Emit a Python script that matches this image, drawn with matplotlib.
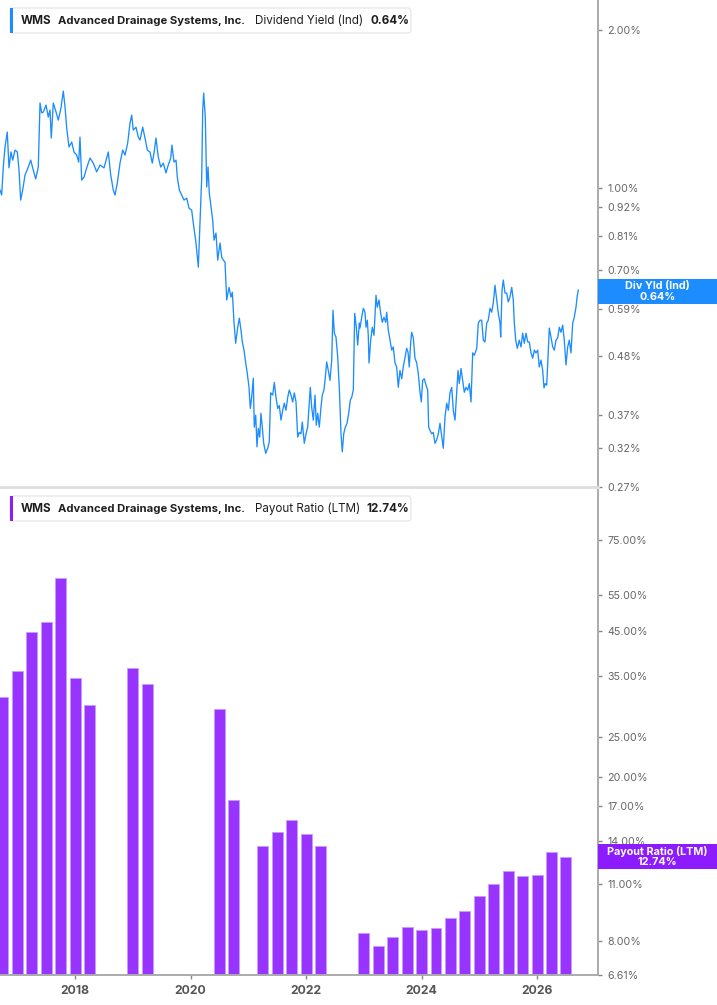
import matplotlib
matplotlib.use('Agg')
import matplotlib.pyplot as plt
from matplotlib.patches import FancyBboxPatch, Rectangle
from matplotlib.ticker import FixedLocator, NullLocator

plt.rcParams['font.family'] = ['Inter', 'DejaVu Sans']

# Dividend yield (Ind), %, dates as decimal years
yld_t = [
    2016.700, 2016.729, 2016.757, 2016.787, 2016.826, 2016.856, 2016.890, 2016.920, 2016.960, 2017.000,
    2017.029, 2017.058, 2017.093, 2017.133, 2017.190, 2017.232, 2017.266, 2017.318, 2017.363, 2017.393,
    2017.422, 2017.450, 2017.497, 2017.536, 2017.566, 2017.588, 2017.623, 2017.670, 2017.710, 2017.756,
    2017.796, 2017.826, 2017.855, 2017.895, 2017.942, 2017.981, 2018.028, 2018.063, 2018.085, 2018.115,
    2018.155, 2018.201, 2018.258, 2018.316, 2018.374, 2018.432, 2018.501, 2018.575, 2018.617, 2018.662,
    2018.691, 2018.731, 2018.778, 2018.825, 2018.865, 2018.911, 2018.951, 2018.981, 2019.008, 2019.055,
    2019.095, 2019.124, 2019.171, 2019.211, 2019.251, 2019.297, 2019.337, 2019.367, 2019.401, 2019.441,
    2019.483, 2019.528, 2019.574, 2019.614, 2019.656, 2019.678, 2019.713, 2019.748, 2019.770, 2019.805,
    2019.846, 2019.886, 2019.933, 2019.973, 2020.019, 2020.047, 2020.094, 2020.134, 2020.163, 2020.193,
    2020.210, 2020.227, 2020.255, 2020.279, 2020.302, 2020.324, 2020.354, 2020.383, 2020.406, 2020.440,
    2020.470, 2020.510, 2020.539, 2020.567, 2020.596, 2020.626, 2020.665, 2020.700, 2020.723, 2020.752,
    2020.781, 2020.816, 2020.844, 2020.873, 2020.896, 2020.925, 2020.955, 2020.982, 2021.012, 2021.034,
    2021.058, 2021.086, 2021.103, 2021.128, 2021.150, 2021.173, 2021.197, 2021.219, 2021.242, 2021.266,
    2021.301, 2021.336, 2021.363, 2021.387, 2021.422, 2021.450, 2021.479, 2021.509, 2021.536, 2021.566,
    2021.595, 2021.623, 2021.652, 2021.682, 2021.709, 2021.739, 2021.768, 2021.796, 2021.826, 2021.855,
    2021.883, 2021.912, 2021.935, 2021.969, 2021.999, 2022.028, 2022.051, 2022.073, 2022.097, 2022.125,
    2022.155, 2022.177, 2022.201, 2022.229, 2022.258, 2022.281, 2022.310, 2022.328, 2022.357, 2022.385,
    2022.414, 2022.444, 2022.466, 2022.489, 2022.518, 2022.548, 2022.575, 2022.605, 2022.627, 2022.652,
    2022.679, 2022.709, 2022.738, 2022.766, 2022.790, 2022.818, 2022.842, 2022.870, 2022.894, 2022.922,
    2022.934, 2022.963, 2022.991, 2023.020, 2023.038, 2023.060, 2023.077, 2023.090, 2023.119, 2023.147,
    2023.176, 2023.211, 2023.233, 2023.263, 2023.292, 2023.320, 2023.349, 2023.379, 2023.396, 2023.424,
    2023.453, 2023.483, 2023.510, 2023.540, 2023.569, 2023.597, 2023.626, 2023.656, 2023.683, 2023.713,
    2023.742, 2023.765, 2023.787, 2023.812, 2023.829, 2023.857, 2023.886, 2023.916, 2023.943, 2023.973,
    2023.995, 2024.019, 2024.047, 2024.077, 2024.106, 2024.123, 2024.146, 2024.175, 2024.203, 2024.232,
    2024.262, 2024.290, 2024.319, 2024.348, 2024.376, 2024.406, 2024.435, 2024.463, 2024.492, 2024.522,
    2024.549, 2024.579, 2024.608, 2024.631, 2024.653, 2024.683, 2024.712, 2024.740, 2024.769, 2024.799,
    2024.826, 2024.856, 2024.885, 2024.913, 2024.955, 2024.982, 2025.012, 2025.041, 2025.069, 2025.098,
    2025.128, 2025.155, 2025.185, 2025.214, 2025.242, 2025.271, 2025.301, 2025.329, 2025.358, 2025.370,
    2025.393, 2025.415, 2025.445, 2025.474, 2025.502, 2025.531, 2025.561, 2025.588, 2025.606, 2025.630,
    2025.658, 2025.692, 2025.722, 2025.751, 2025.779, 2025.808, 2025.838, 2025.865, 2025.895, 2025.924,
    2025.952, 2025.981, 2026.011, 2026.038, 2026.068, 2026.097, 2026.120, 2026.142, 2026.167, 2026.189,
    2026.212, 2026.241, 2026.271, 2026.298, 2026.328, 2026.357, 2026.385, 2026.414, 2026.444, 2026.471,
    2026.501, 2026.530, 2026.558, 2026.587, 2026.617, 2026.644, 2026.674, 2026.697, 2026.714,
]
yld_v = [
    0.993, 0.971, 1.098, 1.199, 1.280, 1.094, 1.173, 1.132, 1.183, 1.173,
    1.084, 0.950, 0.993, 1.060, 1.098, 1.132, 1.094, 1.042, 1.098, 1.454,
    1.392, 1.398, 1.441, 1.367, 1.410, 1.247, 1.454, 1.398, 1.349, 1.422,
    1.532, 1.429, 1.302, 1.199, 1.225, 1.173, 1.157, 1.122, 1.252, 1.037,
    1.051, 1.094, 1.142, 1.117, 1.075, 1.108, 1.094, 1.173, 1.060, 0.993,
    0.971, 1.023, 1.117, 1.183, 1.157, 1.220, 1.331, 1.379, 1.291, 1.308,
    1.252, 1.236, 1.308, 1.247, 1.183, 1.173, 1.117, 1.168, 1.247, 1.147,
    1.098, 1.117, 1.070, 1.108, 1.142, 1.209, 1.122, 1.132, 1.051, 0.993,
    0.971, 0.950, 0.958, 0.917, 0.909, 0.859, 0.787, 0.708, 0.859, 1.051,
    1.410, 1.519, 1.367, 1.006, 1.098, 0.980, 0.921, 0.870, 0.797, 0.822,
    0.730, 0.787, 0.740, 0.730, 0.724, 0.613, 0.648, 0.621, 0.634, 0.556,
    0.507, 0.544, 0.566, 0.537, 0.510, 0.492, 0.465, 0.444, 0.418, 0.381,
    0.400, 0.435, 0.351, 0.370, 0.322, 0.349, 0.336, 0.373, 0.351, 0.327,
    0.313, 0.320, 0.329, 0.408, 0.404, 0.427, 0.400, 0.381, 0.386, 0.362,
    0.378, 0.390, 0.378, 0.400, 0.413, 0.404, 0.392, 0.408, 0.392, 0.336,
    0.343, 0.341, 0.359, 0.327, 0.341, 0.351, 0.383, 0.418, 0.383, 0.362,
    0.404, 0.354, 0.373, 0.351, 0.383, 0.404, 0.413, 0.431, 0.467, 0.450,
    0.431, 0.471, 0.586, 0.530, 0.521, 0.477, 0.418, 0.341, 0.315, 0.341,
    0.351, 0.357, 0.373, 0.395, 0.400, 0.413, 0.578, 0.544, 0.503, 0.554,
    0.542, 0.568, 0.591, 0.581, 0.544, 0.561, 0.525, 0.465, 0.514, 0.544,
    0.525, 0.626, 0.594, 0.613, 0.578, 0.556, 0.568, 0.556, 0.581, 0.537,
    0.514, 0.492, 0.499, 0.465, 0.457, 0.418, 0.450, 0.434, 0.457, 0.477,
    0.496, 0.488, 0.457, 0.510, 0.532, 0.519, 0.475, 0.465, 0.444, 0.409,
    0.392, 0.431, 0.434, 0.422, 0.413, 0.351, 0.346, 0.341, 0.343, 0.327,
    0.332, 0.341, 0.357, 0.338, 0.320, 0.367, 0.390, 0.378, 0.408, 0.418,
    0.378, 0.362, 0.408, 0.450, 0.425, 0.454, 0.431, 0.409, 0.418, 0.413,
    0.425, 0.392, 0.486, 0.481, 0.496, 0.554, 0.561, 0.561, 0.514, 0.510,
    0.554, 0.561, 0.591, 0.581, 0.605, 0.654, 0.613, 0.578, 0.554, 0.521,
    0.640, 0.669, 0.632, 0.632, 0.608, 0.621, 0.648, 0.613, 0.554, 0.514,
    0.496, 0.514, 0.499, 0.530, 0.507, 0.530, 0.510, 0.510, 0.486, 0.475,
    0.492, 0.486, 0.492, 0.457, 0.471, 0.450, 0.417, 0.425, 0.422, 0.477,
    0.542, 0.521, 0.499, 0.492, 0.514, 0.519, 0.544, 0.532, 0.549, 0.514,
    0.461, 0.499, 0.514, 0.486, 0.554, 0.568, 0.594, 0.626, 0.640,
]

# Payout ratio (LTM), %, quarterly
pay_t = [2016.75, 2017.0, 2017.25, 2017.5, 2017.75, 2018.0, 2018.25, 2019.0, 2019.25,
         2020.5, 2020.75, 2021.25, 2021.5, 2021.75, 2022.0, 2022.25,
         2023.0, 2023.25, 2023.5, 2023.75, 2024.0, 2024.25, 2024.5, 2024.75,
         2025.0, 2025.25, 2025.5, 2025.75, 2026.0, 2026.25, 2026.5]
pay_v = [31.1, 36.1, 44.7, 47.5, 60.5, 34.7, 29.8, 36.7, 33.6,
         29.1, 17.6, 13.6, 14.7, 15.7, 14.5, 13.6,
         8.37, 7.77, 8.17, 8.65, 8.48, 8.59, 9.09, 9.44,
         10.26, 11.0, 11.8, 11.5, 11.55, 13.1, 12.74]

yld_ticks = [0.27, 0.32, 0.37, 0.48, 0.59, 0.70, 0.81, 0.92, 1.00, 2.00]
pay_ticks = [6.61, 8.0, 11.0, 14.0, 17.0, 20.0, 25.0, 35.0, 45.0, 55.0, 75.0]
year_ticks = [2018, 2020, 2022, 2024, 2026]

ticker = 'WMS'
company = 'Advanced Drainage Systems, Inc.'
yld_name, yld_last = 'Dividend Yield (Ind)', '0.64%'
pay_name, pay_last = 'Payout Ratio (LTM)', '12.74%'

BLUE = '#1c8cff'
PURPLE = '#9933ff'
PURPLE_TAG = '#8c1cff'
AXIS = '#ababab'
TXT = '#666666'

W, H = 717, 1005
fig = plt.figure(figsize=(W / 100, H / 100), dpi=100)


def fx(px):
    return px / W


def fy(py):
    return 1 - py / H


ax1 = fig.add_axes([0, fy(487), fx(598), fy(0) - fy(487)])
ax2 = fig.add_axes([0, fy(975), fx(598), fy(490) - fy(975)])

ax1.plot(yld_t, yld_v, color=BLUE, lw=0.95)
ax2.bar(pay_t, pay_v, width=0.19, color=PURPLE, edgecolor='#c79cff', linewidth=0.6)

for ax, ticks, lim in ((ax1, yld_ticks, (0.27, 2.284)), (ax2, pay_ticks, (6.61, 99.0))):
    ax.set_yscale('log')
    ax.set_ylim(*lim)
    ax.set_xlim(2016.70, 2027.055)
    ax.yaxis.tick_right()
    ax.yaxis.set_major_locator(FixedLocator(ticks))
    ax.yaxis.set_minor_locator(NullLocator())
    ax.set_yticklabels([f'{t:.2f}%' for t in ticks])
    ax.tick_params(axis='y', which='major', length=3, width=1, color='#888888',
                   labelcolor=TXT, labelsize=7.7, pad=3.5)
    ax.spines['left'].set_visible(False)
    ax.spines['top'].set_visible(False)
    ax.spines['right'].set_color(AXIS)
    ax.spines['right'].set_linewidth(1.4)
    ax.set_facecolor('none')

ax1.spines['bottom'].set_color('#dedede')
ax1.spines['bottom'].set_linewidth(2)
ax1.set_xticks([])

ax2.spines['bottom'].set_color(AXIS)
ax2.spines['bottom'].set_linewidth(1.4)
ax2.set_xticks(year_ticks)
ax2.set_xticklabels([str(y) for y in year_ticks])
ax2.xaxis.set_minor_locator(NullLocator())
ax2.tick_params(axis='x', length=3, width=1, color='#888888', labelcolor='#555555',
                labelsize=8.8, pad=4)
for lab in ax2.get_xticklabels():
    lab.set_fontweight('bold')


def legend_box(top, color, name, last, last_x):
    box = FancyBboxPatch((fx(10), fy(top + 25)), fx(401), 25 / H,
                         boxstyle='round,pad=0,rounding_size=0.004',
                         transform=fig.transFigure, facecolor='white',
                         edgecolor='#e4e4e4', linewidth=0.8, zorder=5)
    fig.add_artist(box)
    fig.add_artist(Rectangle((fx(10), fy(top + 25)), fx(3), 25 / H,
                             transform=fig.transFigure, facecolor=color,
                             edgecolor='none', zorder=6))
    yc = fy(top + 12.8)
    kw = dict(va='center', ha='left', color='#1e1e1e', zorder=7)
    fig.text(fx(20.5), yc, ticker, fontweight='bold', fontsize=8.4, **kw)
    fig.text(fx(58.5), yc, company, fontweight='bold', fontsize=8.1, **kw)
    fig.text(fx(255), yc, name, fontsize=8.4, **kw)
    fig.text(fx(last_x), yc, last, fontweight='bold', fontsize=8.4, **kw)


legend_box(8, BLUE, yld_name, yld_last, 370.4)
legend_box(496, PURPLE_TAG, pay_name, pay_last, 366.7)


def value_tag(top, color, label, value):
    fig.add_artist(Rectangle((fx(598), fy(top + 25)), fx(119), 25 / H,
                             transform=fig.transFigure, facecolor=color,
                             edgecolor='none', zorder=5))
    fig.text(fx(657.5), fy(top + 12.5), f'{label}\n{value}', ha='center', va='center',
             color='white', fontweight='bold', fontsize=7.8, linespacing=1.05, zorder=6)


value_tag(279, BLUE, 'Div Yld (Ind)', yld_last)
value_tag(844, PURPLE_TAG, 'Payout Ratio (LTM)', pay_last)

fig.savefig('out.png', dpi=100)
